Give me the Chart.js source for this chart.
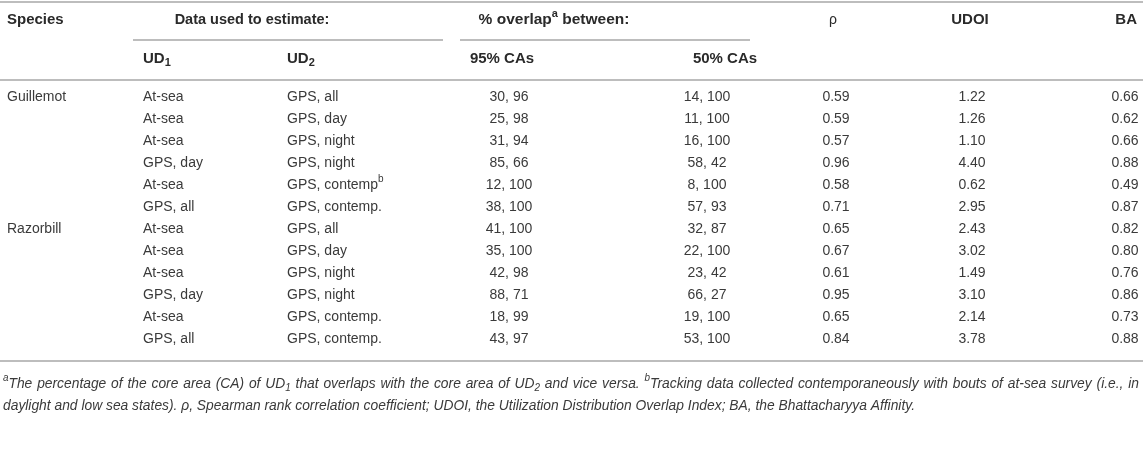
<!DOCTYPE html>
<html>
<head>
<meta charset="utf-8">
<script src="https://cdn.jsdelivr.net/npm/chart.js@4.4.0/dist/chart.umd.min.js"></script>
<style>
html,body{margin:0;padding:0;background:#fff;}
canvas{display:block;}
</style>
</head>
<body>
<canvas id="c" width="1143" height="465"></canvas>
<script>
// ---------- DATA ----------
const species = ["Guillemot","","","","","","Razorbill","","","","",""];
const ud1 = ["At-sea","At-sea","At-sea","GPS, day","At-sea","GPS, all","At-sea","At-sea","At-sea","GPS, day","At-sea","GPS, all"];
const ud2 = ["GPS, all","GPS, day","GPS, night","GPS, night","GPS, contemp","GPS, contemp.","GPS, all","GPS, day","GPS, night","GPS, night","GPS, contemp.","GPS, contemp."];
const ud2Sup = ["","","","","b","","","","","","",""];
const overlap95 = [[30,96],[25,98],[31,94],[85,66],[12,100],[38,100],[41,100],[35,100],[42,98],[88,71],[18,99],[43,97]];
const overlap50 = [[14,100],[11,100],[16,100],[58,42],[8,100],[57,93],[32,87],[22,100],[23,42],[66,27],[19,100],[53,100]];
const rho = [0.59,0.59,0.57,0.96,0.58,0.71,0.65,0.67,0.61,0.95,0.65,0.84];
const udoi = [1.22,1.26,1.10,4.40,0.62,2.95,2.43,3.02,1.49,3.10,2.14,3.78];
const ba = [0.66,0.62,0.66,0.88,0.49,0.87,0.82,0.80,0.76,0.86,0.73,0.88];
const footnote1 = [["sup","a"],["txt","The percentage of the core area (CA) of UD"],["sub","1"],["txt"," that overlaps with the core area of UD"],["sub","2"],["txt"," and vice versa. "],["sup","b"],["txt","Tracking data collected contemporaneously with bouts of at-sea survey (i.e., in"]];
const footnote2 = [["txt","daylight and low sea states). ρ, Spearman rank correlation coefficient; UDOI, the Utilization Distribution Overlap Index; BA, the Bhattacharyya Affinity."]];

// ---------- LAYOUT ----------
const W = 1143, H = 465;
const FONT = '"Liberation Sans", Arial, Helvetica, sans-serif';
const TEXT = '#3a3a3a';
const HEAD = '#2a2a2a';
const RULE = '#bdbdbd';
const COL = {species:7, ud1:143, ud2:287, ca95:509, ca50:707, rho:836, udoi:972, ba:1125};
const ROW0 = 97, ROWH = 22;
const rowY = i => ROW0 + ROWH*i;

const columns = [
  {key:'species', align:'left', text:i=>species[i]},
  {key:'ud1', align:'left', text:i=>ud1[i]},
  {key:'ud2', align:'left', text:i=>ud2[i], sup:i=>ud2Sup[i]},
  {key:'ca95', align:'center', text:i=>overlap95[i].join(', ')},
  {key:'ca50', align:'center', text:i=>overlap50[i].join(', ')},
  {key:'rho', align:'center', text:i=>rho[i].toFixed(2)},
  {key:'udoi', align:'center', text:i=>udoi[i].toFixed(2)},
  {key:'ba', align:'center', text:i=>ba[i].toFixed(2)}
];

const headers = [
  {parts:[["txt","Species"]], x:7, y:20, align:'left', bold:true, size:15},
  {parts:[["txt","Data used to estimate:"]], x:252, y:20, align:'center', bold:true, size:14.5},
  {parts:[["txt","% overlap"],["sup","a"],["txt"," between:"]], x:554, y:20, align:'center', bold:true, size:15.5},
  {parts:[["txt","ρ"]], x:833, y:20, align:'center', bold:false, size:14},
  {parts:[["txt","UDOI"]], x:970, y:20, align:'center', bold:true, size:15},
  {parts:[["txt","BA"]], x:1137, y:20, align:'right', bold:true, size:15},
  {parts:[["txt","UD"],["sub","1"]], x:143, y:59, align:'left', bold:true, size:15},
  {parts:[["txt","UD"],["sub","2"]], x:287, y:59, align:'left', bold:true, size:15},
  {parts:[["txt","95% CAs"]], x:502, y:59, align:'center', bold:true, size:15},
  {parts:[["txt","50% CAs"]], x:725, y:59, align:'center', bold:true, size:15}
];
const rules = [
  {x0:0, x1:W, y:2},
  {x0:133, x1:443, y:40},
  {x0:460, x1:750, y:40},
  {x0:0, x1:W, y:80},
  {x0:0, x1:W, y:361}
];

// ---------- datasets: every cell is a point placed by the scales ----------
const datasets = columns.map(c => ({
  label: c.key,
  data: species.map((_, i) => ({x: COL[c.key], y: rowY(i)})),
  pointRadius: 0, showLine:false
}));
datasets.push({label:'headers', data: headers.map(h => ({x:h.x, y:h.y})), pointRadius:0, showLine:false});
datasets.push({label:'foot', data:[{x:3,y:384},{x:3,y:406}], pointRadius:0, showLine:false});

function partFont(kind, size, bold, italic){
  const s = (kind==='txt') ? size : Math.round(size*0.72);
  return (italic?'italic ':'') + (bold?'bold ':'') + s + 'px ' + FONT;
}
function measureParts(ctx, parts, size, bold, italic){
  let w = 0;
  parts.forEach(p => { ctx.font = partFont(p[0], size, bold, italic); w += ctx.measureText(p[1]).width; });
  return w;
}
function drawParts(ctx, parts, x, y, size, bold, italic, extraPerSpace){
  extraPerSpace = extraPerSpace || 0;
  parts.forEach(p => {
    ctx.font = partFont(p[0], size, bold, italic);
    let dy = 0;
    if (p[0]==='sup') dy = -size*0.38;
    if (p[0]==='sub') dy = size*0.28;
    if (extraPerSpace && p[0]==='txt') {
      const words = p[1].split(' ');
      words.forEach((wd, k) => {
        ctx.fillText(wd, x, y+dy);
        x += ctx.measureText(wd).width;
        if (k < words.length-1) x += ctx.measureText(' ').width + extraPerSpace;
      });
    } else {
      ctx.fillText(p[1], x, y+dy);
      x += ctx.measureText(p[1]).width;
    }
  });
}
function countSpaces(parts){
  let n = 0;
  parts.forEach(p => { if (p[0]==='txt') n += (p[1].match(/ /g)||[]).length; });
  return n;
}

const tablePlugin = {
  id:'table',
  afterDatasetsDraw(chart){
    const ctx = chart.ctx;
    const xs = chart.scales.x, ys = chart.scales.y;
    ctx.save();
    ctx.strokeStyle = RULE; ctx.lineWidth = 2;
    rules.forEach(r => {
      const y = Math.round(ys.getPixelForValue(r.y));
      ctx.beginPath();
      ctx.moveTo(xs.getPixelForValue(r.x0), y);
      ctx.lineTo(xs.getPixelForValue(r.x1), y);
      ctx.stroke();
    });
    ctx.textBaseline = 'middle';
    ctx.textAlign = 'left';
    const size = 14;
    ctx.fillStyle = TEXT;
    columns.forEach((c, ci) => {
      const meta = chart.getDatasetMeta(ci);
      meta.data.forEach((pt, i) => {
        const parts = [["txt", c.text(i)]];
        if (c.sup && c.sup(i)) parts.push(["sup", c.sup(i)]);
        const w = measureParts(ctx, parts, size, false, false);
        const x0 = c.align==='center' ? pt.x - w/2 : pt.x;
        drawParts(ctx, parts, x0, pt.y, size, false, false);
      });
    });
    ctx.fillStyle = HEAD;
    const hm = chart.getDatasetMeta(columns.length);
    hm.data.forEach((pt, i) => {
      const h = headers[i];
      const w = measureParts(ctx, h.parts, h.size, h.bold, false);
      let x0 = pt.x;
      if (h.align==='center') x0 = pt.x - w/2;
      if (h.align==='right') x0 = pt.x - w;
      drawParts(ctx, h.parts, x0, pt.y, h.size, h.bold, false);
    });
    // footnotes: condensed italic, first line lightly justified
    ctx.fillStyle = TEXT;
    const fm = chart.getDatasetMeta(columns.length+1);
    const fsize = 14;
    const w2 = measureParts(ctx, footnote2, fsize, false, true);
    const sx = (915 - 3) / w2;
    const w1 = measureParts(ctx, footnote1, fsize, false, true);
    const extra = Math.max(0, ((1139 - 3)/sx - w1) / countSpaces(footnote1));
    [[footnote1, extra], [footnote2, 0]].forEach((ln, i) => {
      const pt = fm.data[i];
      ctx.save();
      ctx.translate(pt.x, pt.y);
      ctx.scale(sx, 1);
      drawParts(ctx, ln[0], 0, 0, fsize, false, true, ln[1]);
      ctx.restore();
    });
    ctx.restore();
  }
};

new Chart(document.getElementById('c'), {
  type:'scatter',
  data:{datasets},
  options:{
    responsive:false, animation:false,
    layout:{padding:0},
    plugins:{legend:{display:false}, tooltip:{enabled:false}},
    scales:{
      x:{type:'linear', min:0, max:W, display:false},
      y:{type:'linear', min:0, max:H, reverse:true, display:false}
    }
  },
  plugins:[tablePlugin]
});
</script>
</body>
</html>
